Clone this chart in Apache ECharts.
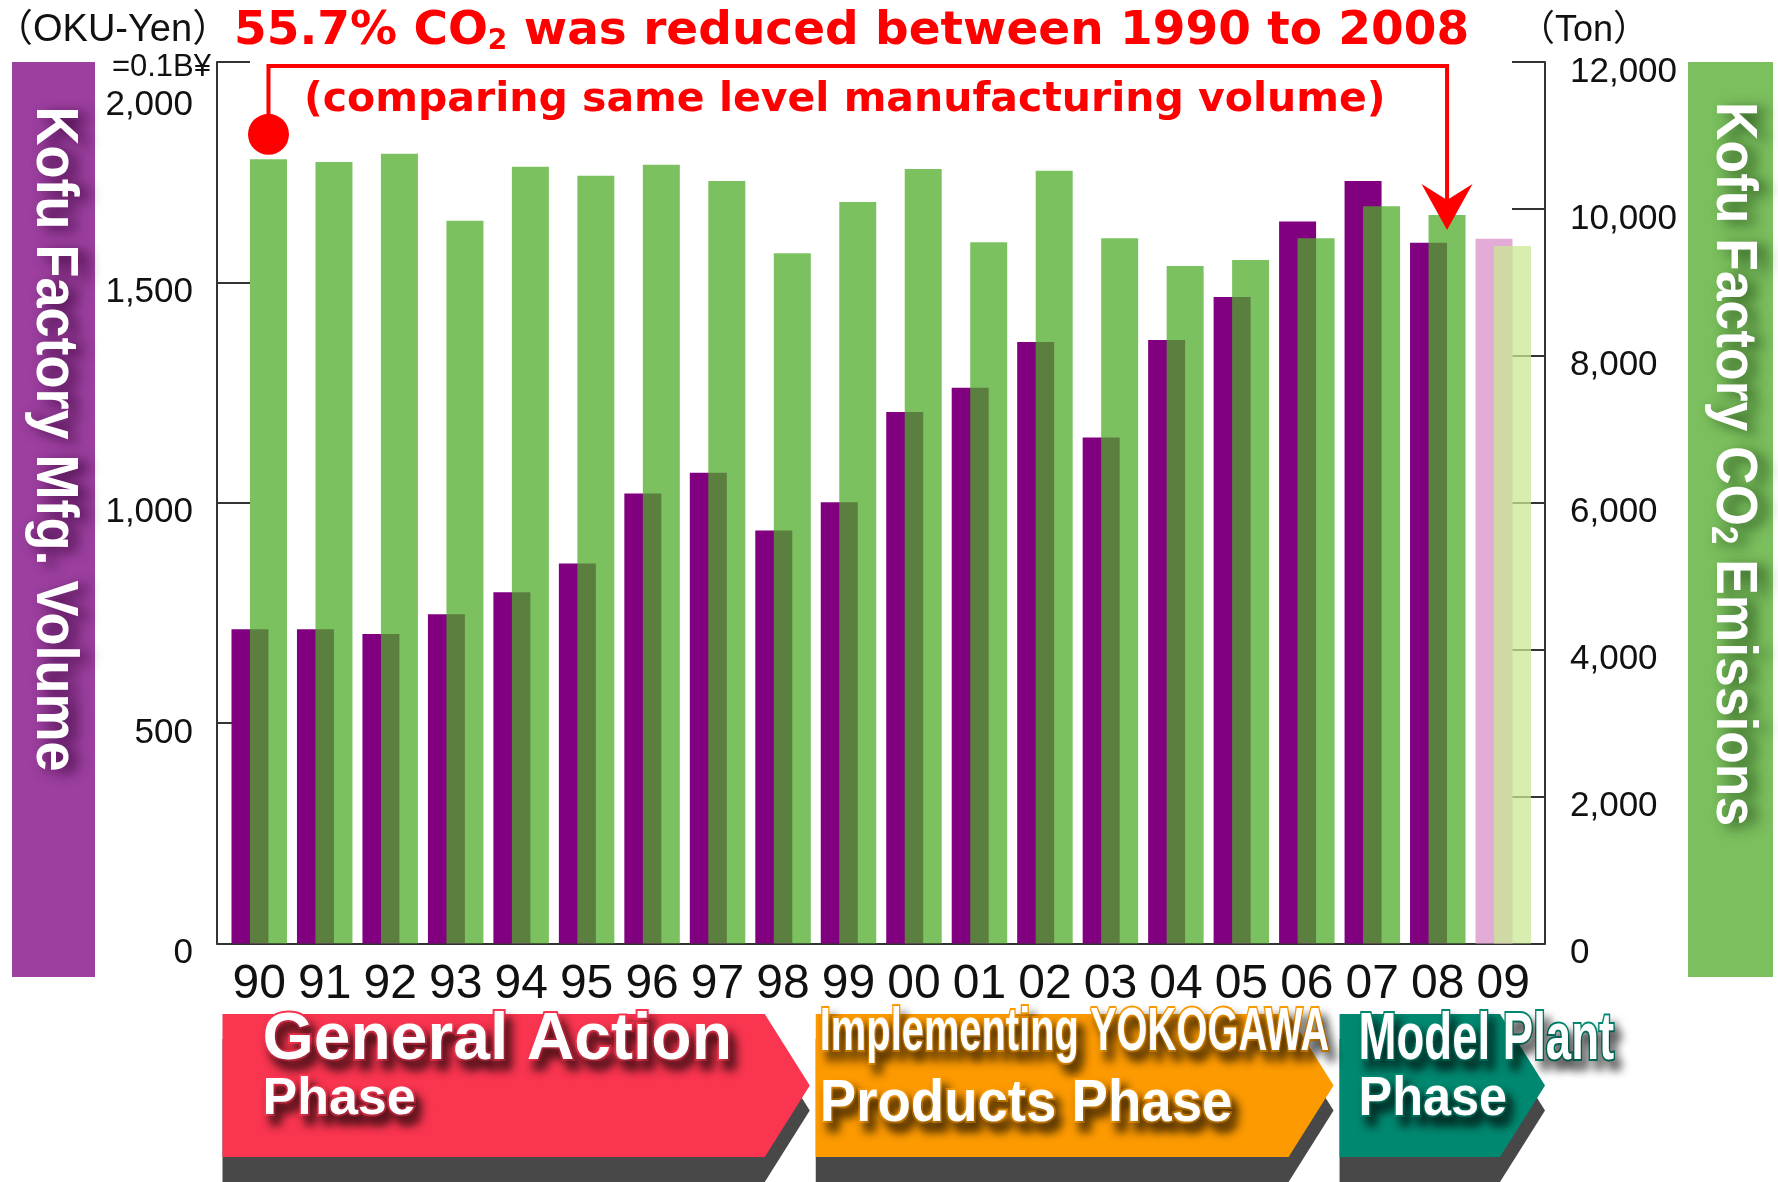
<!DOCTYPE html>
<html>
<head>
<meta charset="utf-8">
<title>Kofu Factory Mfg. Volume and CO2 Emissions</title>
<script src="https://cdn.jsdelivr.net/npm/echarts@6/dist/echarts.min.js"></script>
<style>
  html, body { margin: 0; padding: 0; background: #fff; }
  #main { width: 1778px; height: 1182px; }
</style>
</head>
<body>
<div id="main"></div>
<script>
  // fiscal years (last two digits)
  const years = ['90', '91', '92', '93', '94', '95', '96', '97', '98', '99',
    '00', '01', '02', '03', '04', '05', '06', '07', '08', '09']
  // manufacturing volume, OKU-Yen (0.1 billion yen)
  const mfgVolume = [713, 713, 702, 747, 797, 862, 1021, 1068, 937, 1001,
    1206, 1261, 1365, 1148, 1369, 1467, 1638, 1730, 1590, 1599]
  // CO2 emissions, ton
  const co2Emissions = [10675, 10639, 10752, 9839, 10575, 10452, 10602, 10380, 9396, 10094,
    10543, 9545, 10520, 9600, 9223, 9305, 9600, 10035, 9917, 9495]
  // years drawn in pale colours (estimate)
  const estimateYears = ['09']

  const leftMax = 2000
  const leftStep = 500
  const rightMax = 12000
  const rightStep = 2000

  const phaseLines = [
    ['General Action', 'Phase'],
    ['Implementing YOKOGAWA', 'Products Phase'],
    ['Model Plant', 'Phase']
  ]
  const phaseFrom = ['90', '99', '07']
  const phaseTo = ['98', '06', '09']

  const reductionFrom = '90'
  const reductionTo = '08'

  // ---- layout / style ----
  const W = 1778
  const frame = { left: 217, right: 233, top: 62, bottom: 238.5 }
  const barGrid = { left: 226.5, right: 242, top: 62, bottom: 238.5 }
  const barWidth = 37
  const axisColor = '#333'
  const labelFont = '"Liberation Sans", Arial, sans-serif'
  const unitFont = '"Liberation Sans", "Noto Sans CJK JP", sans-serif'
  const heavyFont = '"DejaVu Sans", "Liberation Sans", sans-serif'

  const phaseStyle = [
    { color: '#F93550', lines: [{ dx: 40, y: 1041, size: 66, sx: 1 }, { dx: 40, y: 1100, size: 52, sx: 1 }] },
    { color: '#FC9A00', lines: [{ dx: 4, y: 1033, size: 62, sx: 0.643 }, { dx: 4, y: 1104, size: 60, sx: 0.91 }] },
    { color: '#008870', lines: [{ dx: 19, y: 1041, size: 66, sx: 0.69 }, { dx: 19, y: 1100, size: 56, sx: 0.9 }] }
  ]

  function fmt(v) {
    return String(v).replace(/\B(?=(\d{3})+(?!\d))/g, ',')
  }

  function isEstimate(i) {
    return estimateYears.indexOf(years[i]) >= 0
  }

  let chart = echarts.init(document.getElementById('main'))

  let option = {
    animation: false,
    backgroundColor: '#fff',
    grid: [
      Object.assign({ containLabel: false, outerBoundsMode: 'none' }, frame),
      Object.assign({ containLabel: false, outerBoundsMode: 'none' }, barGrid)
    ],
    xAxis: [
      {
        type: 'category',
        gridIndex: 0,
        data: years,
        axisLine: { show: true, lineStyle: { color: axisColor, width: 2 } },
        axisTick: { show: false },
        axisLabel: { show: false },
        splitLine: { show: false }
      },
      {
        type: 'category',
        gridIndex: 1,
        data: years,
        axisLine: { show: false },
        axisTick: { show: false },
        axisLabel: {
          show: true,
          interval: 0,
          hideOverlap: false,
          color: '#111',
          fontSize: 48,
          fontFamily: labelFont,
          margin: 17
        },
        splitLine: { show: false }
      }
    ],
    yAxis: [
      {
        type: 'value',
        gridIndex: 0,
        position: 'left',
        min: 0,
        max: leftMax,
        interval: leftStep,
        axisLine: { show: true, lineStyle: { color: axisColor, width: 2 } },
        axisTick: { show: true, inside: true, length: 33, lineStyle: { color: axisColor, width: 2 } },
        splitLine: { show: false },
        axisLabel: {
          margin: 24,
          color: '#111',
          fontSize: 35,
          fontFamily: labelFont,
          formatter: function (v) {
            return v === leftMax ? '{top|' + fmt(v) + '}' : '{n|' + fmt(v) + '}'
          },
          rich: {
            n: { padding: [20, 0, 0, 0] },
            top: { padding: [86, 0, 0, 0] }
          }
        }
      },
      {
        type: 'value',
        gridIndex: 0,
        position: 'right',
        min: 0,
        max: rightMax,
        interval: rightStep,
        axisLine: { show: true, lineStyle: { color: axisColor, width: 2 } },
        axisTick: { show: true, inside: true, length: 33, lineStyle: { color: axisColor, width: 2 } },
        splitLine: { show: false },
        axisLabel: {
          margin: 25,
          color: '#111',
          fontSize: 35,
          fontFamily: labelFont,
          formatter: function (v) {
            return '{n|' + fmt(v) + '}'
          },
          rich: {
            n: { padding: [20, 0, 0, 0] }
          }
        }
      },
      { type: 'value', gridIndex: 1, min: 0, max: leftMax, show: false },
      { type: 'value', gridIndex: 1, min: 0, max: rightMax, show: false }
    ],
    series: [
      {
        name: 'Kofu Factory Mfg. Volume',
        type: 'bar',
        xAxisIndex: 1,
        yAxisIndex: 2,
        barWidth: barWidth,
        barGap: '-50%',
        itemStyle: { color: '#800080' },
        data: mfgVolume.map(function (v, i) {
          return isEstimate(i) ? { value: v, itemStyle: { color: '#E3ACD6' } } : v
        })
      },
      {
        name: 'Kofu Factory CO2 Emissions',
        type: 'bar',
        xAxisIndex: 1,
        yAxisIndex: 3,
        barWidth: barWidth,
        barGap: '-50%',
        itemStyle: { color: 'rgb(78,171,40)', opacity: 0.74 },
        data: co2Emissions.map(function (v, i) {
          return isEstimate(i) ? { value: v, itemStyle: { color: 'rgb(201,232,147)', opacity: 0.74 } } : v
        })
      }
    ]
  }

  chart.setOption(option)

  // ---- decorations placed from the axes ----
  let cx = function (cat) {
    return chart.convertToPixel({ xAxisIndex: 1 }, years.indexOf(cat))
  }
  let slot = cx(years[1]) - cx(years[0])
  let boundary = function (idx) {
    return cx(years[0]) - slot / 2 + idx * slot
  }
  let yCo2 = function (v) {
    return chart.convertToPixel({ yAxisIndex: 3 }, v)
  }

  let graphics = []

  // vertical axis titles
  graphics.push({
    type: 'rect', z: 1,
    shape: { x: 12, y: 62, width: 83, height: 915 },
    style: { fill: '#9C3F9F' }
  })
  graphics.push({
    type: 'text', z: 2,
    x: 53.5, y: 106.5, rotation: -Math.PI / 2, scaleX: 0.9,
    style: {
      text: 'Kofu Factory Mfg. Volume',
      fill: '#fff',
      font: 'bold 60px ' + labelFont,
      align: 'left',
      verticalAlign: 'middle',
      textShadowColor: 'rgba(50,0,50,0.85)',
      textShadowBlur: 14,
      textShadowOffsetX: 9,
      textShadowOffsetY: 4
    }
  })
  graphics.push({
    type: 'rect', z: 1,
    shape: { x: 1688, y: 62, width: 85, height: 915 },
    style: { fill: '#7BBF5E' }
  })
  let greenTitleShadow = {
    textShadowColor: 'rgba(30,70,20,0.85)', textShadowBlur: 14, textShadowOffsetX: 9, textShadowOffsetY: 4
  }
  graphics.push({
    type: 'text', z: 2,
    x: 1732.5, y: 102, rotation: -Math.PI / 2, scaleX: 0.92,
    style: {
      text: '{a|Kofu Factory CO}{s|2}{a| Emissions}',
      fill: '#fff',
      align: 'left',
      verticalAlign: 'middle',
      rich: {
        a: Object.assign({ fill: '#fff', fontSize: 58, fontWeight: 'bold', fontFamily: labelFont, verticalAlign: 'bottom' }, greenTitleShadow),
        s: Object.assign({ fill: '#fff', fontSize: 36, fontWeight: 'bold', fontFamily: labelFont, verticalAlign: 'bottom' }, greenTitleShadow)
      }
    }
  })

  // units
  graphics.push({
    type: 'text', z: 5, x: -5, y: 31,
    style: { text: '（OKU-Yen）', fill: '#111', font: '38px ' + unitFont, align: 'left', verticalAlign: 'middle' }
  })
  graphics.push({
    type: 'text', z: 5, x: 211, y: 67,
    style: { text: '=0.1B¥', fill: '#111', font: '31px ' + labelFont, align: 'right', verticalAlign: 'middle' }
  })
  graphics.push({
    type: 'text', z: 5, x: 1519, y: 31,
    style: { text: '（Ton）', fill: '#111', font: '36px ' + unitFont, align: 'left', verticalAlign: 'middle' }
  })

  // headline
  graphics.push({
    type: 'text', z: 5, x: 234, y: 32,
    style: {
      text: '{a|55.7% CO}{s|2}{a| was reduced between 1990 to 2008}',
      align: 'left',
      verticalAlign: 'middle',
      rich: {
        a: { fill: '#FF0000', fontSize: 47, fontWeight: 'bold', fontFamily: heavyFont, verticalAlign: 'bottom' },
        s: { fill: '#FF0000', fontSize: 28, fontWeight: 'bold', fontFamily: heavyFont, verticalAlign: 'bottom' }
      }
    }
  })
  graphics.push({
    type: 'text', z: 5, x: 304, y: 100,
    style: {
      text: '(comparing same level manufacturing volume)',
      fill: '#FF0000',
      font: 'bold 41px ' + heavyFont,
      align: 'left',
      verticalAlign: 'middle'
    }
  })

  // bracket from the 1990 bar to the 2008 bar
  let off = barWidth / 4
  let xFrom = cx(reductionFrom) + off
  let xTo = cx(reductionTo) + off
  let topY = yCo2(rightMax) + 4
  let dotY = yCo2(co2Emissions[years.indexOf(reductionFrom)]) - 25
  let tipY = yCo2(co2Emissions[years.indexOf(reductionTo)]) + 15
  graphics.push({
    type: 'polyline', z: 10,
    shape: { points: [[xFrom, dotY], [xFrom, topY], [xTo, topY], [xTo, tipY - 30]] },
    style: { stroke: '#FF0000', lineWidth: 4, fill: null }
  })
  graphics.push({
    type: 'polygon', z: 10,
    shape: { points: [[xTo - 25.5, tipY - 46], [xTo, tipY], [xTo + 25.5, tipY - 46], [xTo, tipY - 30]] },
    style: { fill: '#FF0000' }
  })
  graphics.push({
    type: 'circle', z: 10,
    shape: { cx: xFrom, cy: dotY, r: 20.5 },
    style: { fill: '#FF0000' }
  })

  // phase banners
  let bTop = 1014
  let bH = 143
  let tipW = 45
  let drop = 25
  let frameRight = W - frame.right
  phaseLines.forEach(function (lines, p) {
    let s = years.indexOf(phaseFrom[p])
    let e = years.indexOf(phaseTo[p])
    let x0 = boundary(s) - (s === 0 ? 4 : 0)
    let x1 = e === years.length - 1 ? frameRight : boundary(e + 1) - 6
    let pts = function (dy) {
      return [[x0, bTop + dy], [x1 - tipW, bTop + dy], [x1, bTop + bH / 2 + dy],
        [x1 - tipW, bTop + bH + dy], [x0, bTop + bH + dy]]
    }
    graphics.push({ type: 'polygon', z: 3, shape: { points: pts(drop) }, style: { fill: '#484848' } })
    graphics.push({ type: 'polygon', z: 4, shape: { points: pts(0) }, style: { fill: phaseStyle[p].color } })
    lines.forEach(function (txt, k) {
      let ls = phaseStyle[p].lines[k]
      graphics.push({
        type: 'text', z: 6,
        x: x0 + ls.dx, y: ls.y, scaleX: ls.sx,
        style: {
          text: txt,
          fill: '#fff',
          stroke: phaseStyle[p].color,
          lineWidth: 4,
          strokeFirst: true,
          font: 'bold ' + ls.size + 'px ' + labelFont,
          align: 'left',
          verticalAlign: 'middle',
          textShadowColor: 'rgba(0,0,0,0.6)',
          textShadowBlur: 10,
          textShadowOffsetX: 6,
          textShadowOffsetY: 9
        }
      })
    })
  })

  chart.setOption({ graphic: { elements: graphics } })

  window.addEventListener('resize', function () {
    chart.resize()
  })
</script>
</body>
</html>
